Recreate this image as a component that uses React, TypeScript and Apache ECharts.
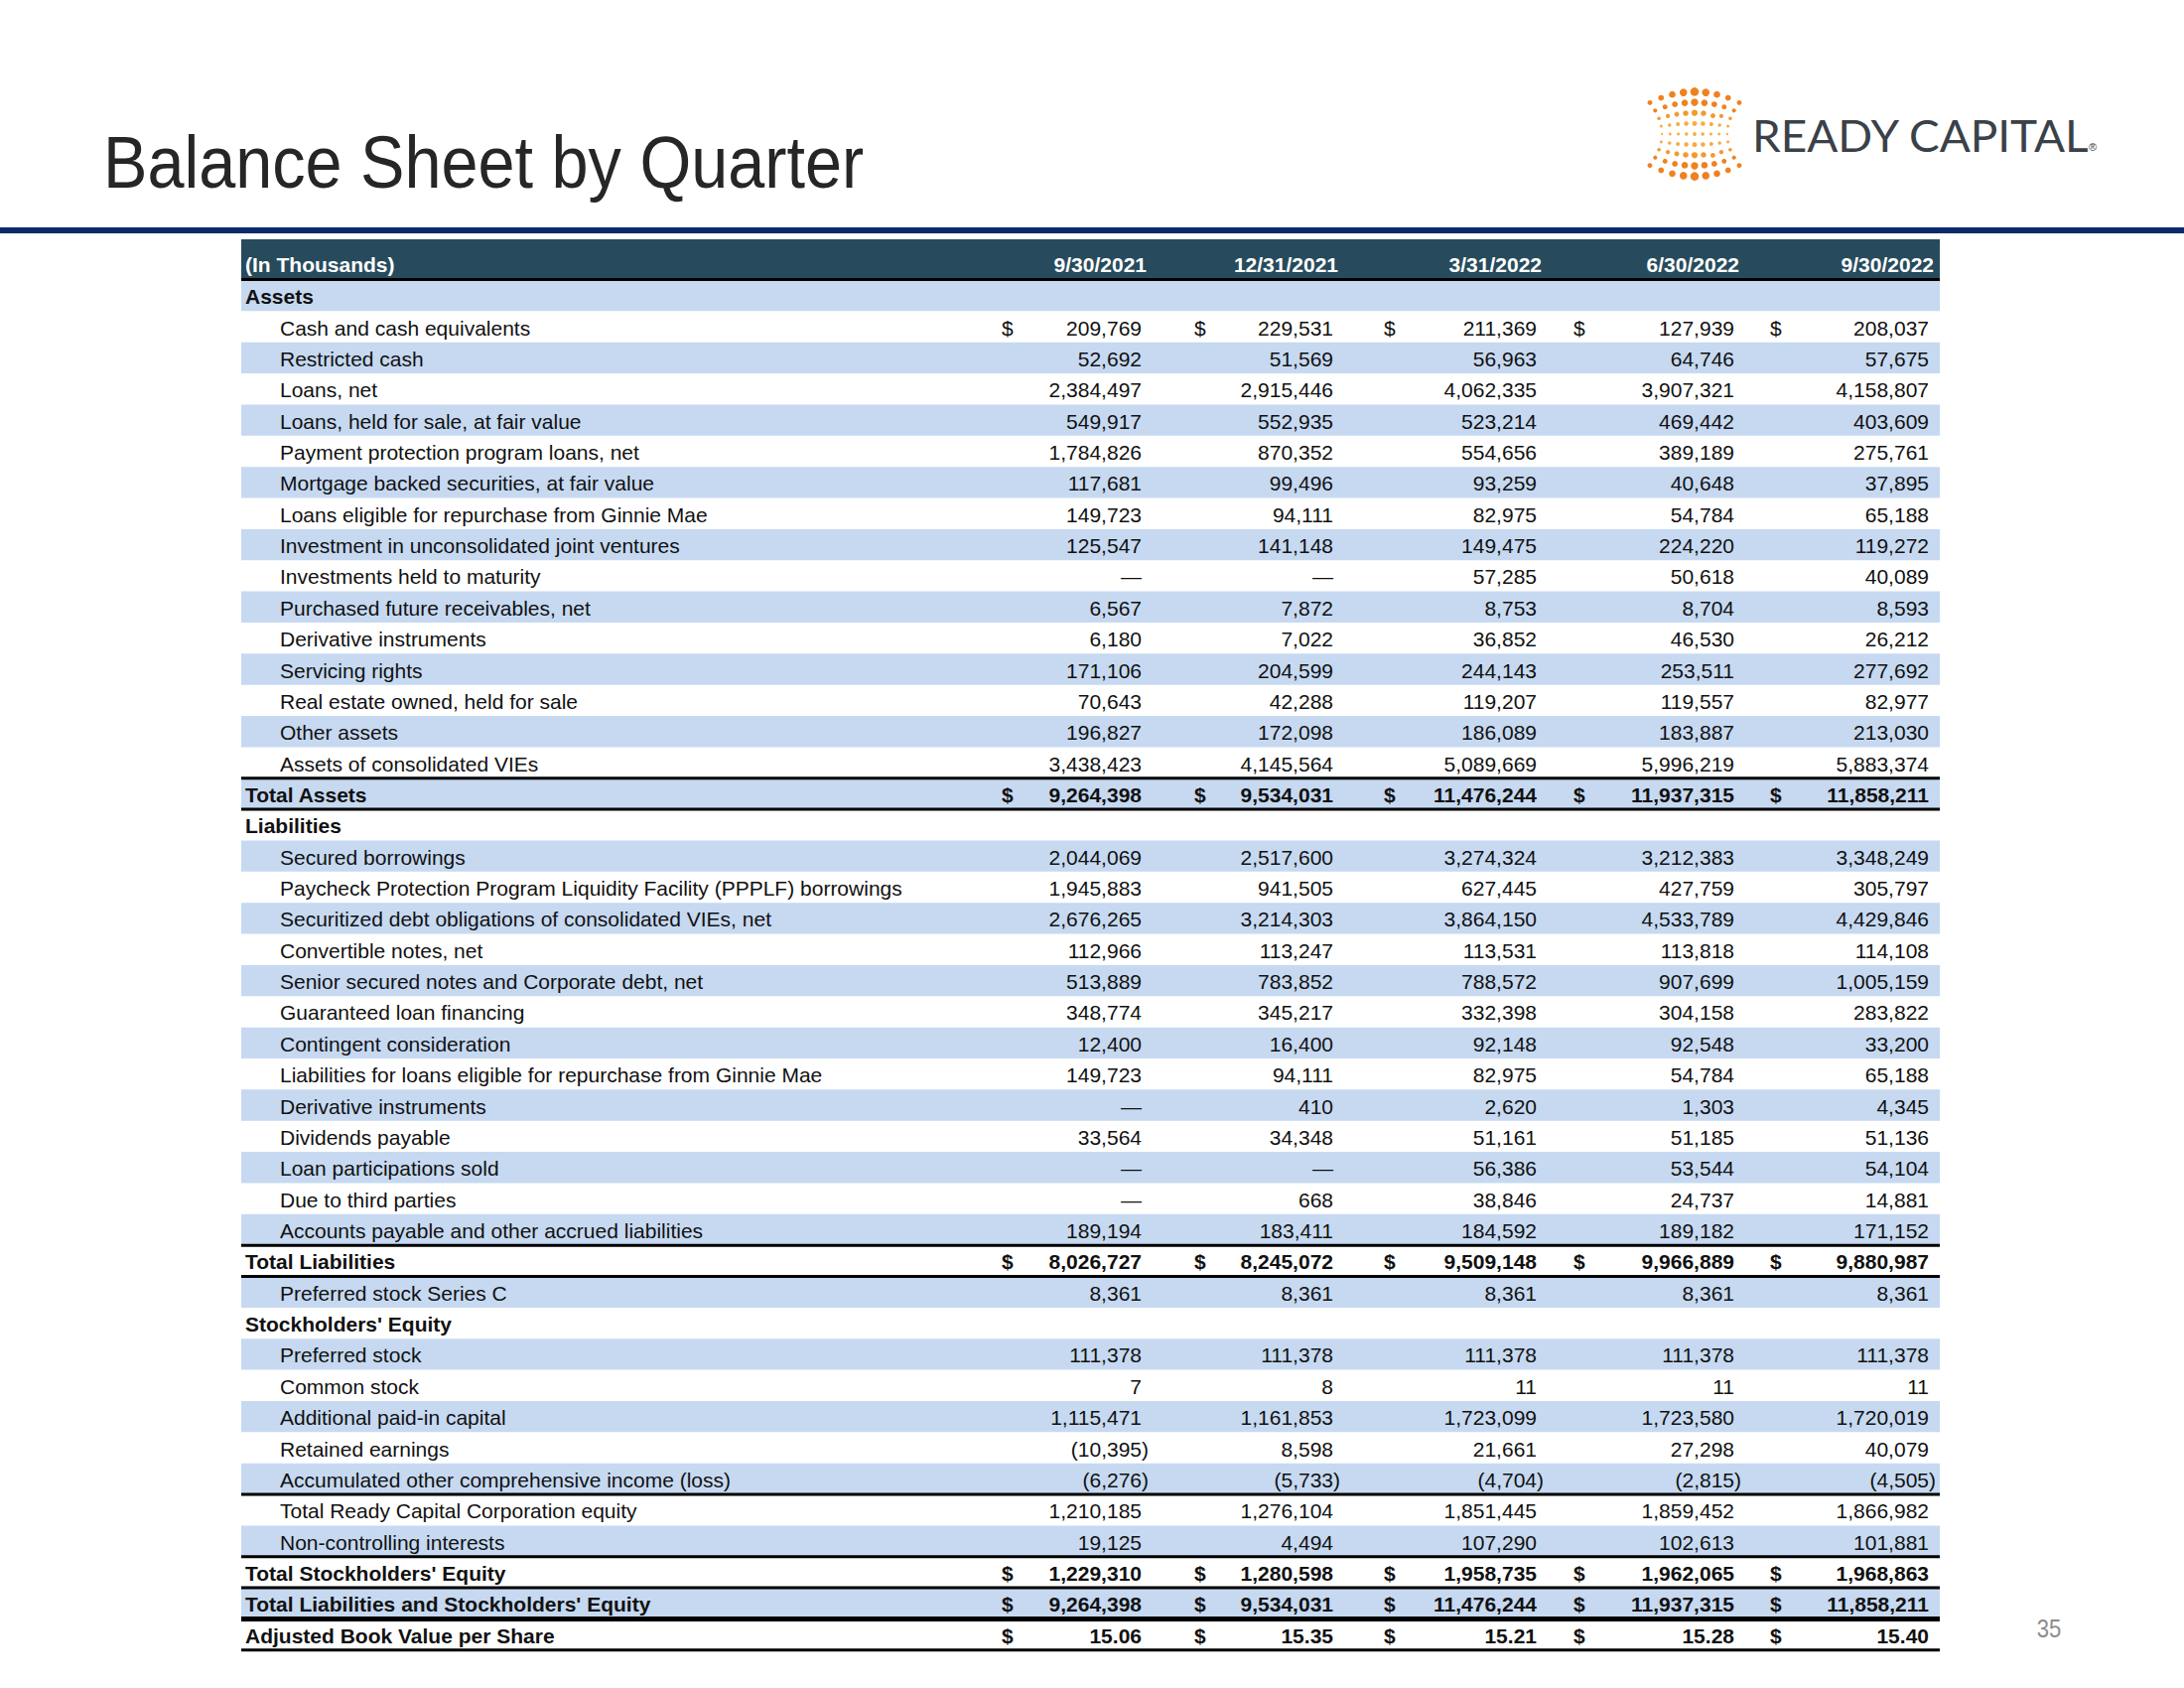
import React, { useEffect, useRef } from 'react';
import * as echarts from 'echarts';

// ---------- DATA ----------
const quarterLabels = ['9/30/2021', '12/31/2021', '3/31/2022', '6/30/2022', '9/30/2022'];

const rowLabels = [
  'Assets',
  'Cash and cash equivalents',
  'Restricted cash',
  'Loans, net',
  'Loans, held for sale, at fair value',
  'Payment protection program loans, net',
  'Mortgage backed securities, at fair value',
  'Loans eligible for repurchase from Ginnie Mae',
  'Investment in unconsolidated joint ventures',
  'Investments held to maturity',
  'Purchased future receivables, net',
  'Derivative instruments',
  'Servicing rights',
  'Real estate owned, held for sale',
  'Other assets',
  'Assets of consolidated VIEs',
  'Total Assets',
  'Liabilities',
  'Secured borrowings',
  'Paycheck Protection Program Liquidity Facility (PPPLF) borrowings',
  'Securitized debt obligations of consolidated VIEs, net',
  'Convertible notes, net',
  'Senior secured notes and Corporate debt, net',
  'Guaranteed loan financing',
  'Contingent consideration',
  'Liabilities for loans eligible for repurchase from Ginnie Mae',
  'Derivative instruments',
  'Dividends payable',
  'Loan participations sold',
  'Due to third parties',
  'Accounts payable and other accrued liabilities',
  'Total Liabilities',
  'Preferred stock Series C',
  "Stockholders' Equity",
  'Preferred stock',
  'Common stock',
  'Additional paid-in capital',
  'Retained earnings',
  'Accumulated other comprehensive income (loss)',
  'Total Ready Capital Corporation equity',
  'Non-controlling interests',
  "Total Stockholders' Equity",
  "Total Liabilities and Stockholders' Equity",
  'Adjusted Book Value per Share',
];

// 's' = section header, 'i' = line item, 't' = total
const rowKinds = [
  's', 'i', 'i', 'i', 'i', 'i', 'i', 'i', 'i', 'i', 'i', 'i', 'i', 'i', 'i', 'i', 't',
  's', 'i', 'i', 'i', 'i', 'i', 'i', 'i', 'i', 'i', 'i', 'i', 'i', 'i', 't', 'i',
  's', 'i', 'i', 'i', 'i', 'i', 'i', 'i', 't', 't', 't',
];

// null = blank, 0 = dash
const q3_2021 = [null, 209769, 52692, 2384497, 549917, 1784826, 117681, 149723, 125547, 0, 6567, 6180, 171106, 70643, 196827, 3438423, 9264398,
  null, 2044069, 1945883, 2676265, 112966, 513889, 348774, 12400, 149723, 0, 33564, 0, 0, 189194, 8026727, 8361,
  null, 111378, 7, 1115471, -10395, -6276, 1210185, 19125, 1229310, 9264398, 15.06];
const q4_2021 = [null, 229531, 51569, 2915446, 552935, 870352, 99496, 94111, 141148, 0, 7872, 7022, 204599, 42288, 172098, 4145564, 9534031,
  null, 2517600, 941505, 3214303, 113247, 783852, 345217, 16400, 94111, 410, 34348, 0, 668, 183411, 8245072, 8361,
  null, 111378, 8, 1161853, 8598, -5733, 1276104, 4494, 1280598, 9534031, 15.35];
const q1_2022 = [null, 211369, 56963, 4062335, 523214, 554656, 93259, 82975, 149475, 57285, 8753, 36852, 244143, 119207, 186089, 5089669, 11476244,
  null, 3274324, 627445, 3864150, 113531, 788572, 332398, 92148, 82975, 2620, 51161, 56386, 38846, 184592, 9509148, 8361,
  null, 111378, 11, 1723099, 21661, -4704, 1851445, 107290, 1958735, 11476244, 15.21];
const q2_2022 = [null, 127939, 64746, 3907321, 469442, 389189, 40648, 54784, 224220, 50618, 8704, 46530, 253511, 119557, 183887, 5996219, 11937315,
  null, 3212383, 427759, 4533789, 113818, 907699, 304158, 92548, 54784, 1303, 51185, 53544, 24737, 189182, 9966889, 8361,
  null, 111378, 11, 1723580, 27298, -2815, 1859452, 102613, 1962065, 11937315, 15.28];
const q3_2022 = [null, 208037, 57675, 4158807, 403609, 275761, 37895, 65188, 119272, 40089, 8593, 26212, 277692, 82977, 213030, 5883374, 11858211,
  null, 3348249, 305797, 4429846, 114108, 1005159, 283822, 33200, 65188, 4345, 51136, 54104, 14881, 171152, 9880987, 8361,
  null, 111378, 11, 1720019, 40079, -4505, 1866982, 101881, 1968863, 11858211, 15.40];

const columns = [q3_2021, q4_2021, q1_2022, q2_2022, q3_2022];

const dollarRows = [1, 16, 31, 41, 42, 43];
const lineAboveRows = [16, 17, 31, 32, 39, 41, 42];
const thickLineAboveRows = [43];
const lineBelowRows = [43];

// ---------- LAYOUT / STYLE ----------
const FONT = '"Liberation Sans", Arial, sans-serif';
const TABLE_LEFT = 243;
const TABLE_TOP = 282;
const TABLE_W = 1711;
const ROW_H = 31.36;
const valueRightOffsets = [907, 1100, 1305, 1504, 1700];
const dollarLeftOffsets = [766, 960, 1151, 1342, 1540];
const STRIPE = '#c6d9f1';
const HEADER_BG = '#274b5c';
const TEXT = '#111111';
const FS = 21;

function fmt(v: number): string {
  if (v === 0) return '\u2014';
  const a = Math.abs(v);
  const s = Number.isInteger(a) ? a.toLocaleString('en-US') : a.toFixed(2);
  return v < 0 ? '(' + s + ')' : s;
}

function logoDots(): any[] {
  const out: any[] = [];
  const cx = 1707, cy = 135, sx = 11.25, sy = 7.9, arc = 11;
  for (let j = -4; j <= 4; j++) {
    for (let i = -4; i <= 4; i++) {
      const u = i / 4, v = j / 4;
      const x = cx + i * sx * (1 - 0.27 * (1 - v * v));
      const y = cy + j * sy + Math.sign(j) * arc * (1 - u * u) * Math.abs(v);
      const r = 1.2 + 2.4 * Math.abs(v) * (1 - 0.5 * Math.abs(u)) + 0.7 * (1 - Math.abs(u));
      const t = Math.abs(v);
      const col = t > 0.6 ? '#ee8220' : t > 0.3 ? '#f29a2e' : '#f5ad45';
      out.push({ type: 'circle', shape: { cx: x, cy: y, r }, style: { fill: col }, silent: true });
    }
  }
  return out;
}

export default function App() {
  const ref = useRef<HTMLDivElement>(null);
  useEffect(() => {
    if (!ref.current) return;
    const chart = echarts.init(ref.current, null, { renderer: 'svg' });

    const renderItem = (params: any, api: any) => {
      const i = api.value(1);
      const c = api.coord([0, i]);
      const h = api.size([0, 1])[1];
      const x0 = c[0];
      const cy = c[1];
      const top = cy - h / 2;
      const w = api.coord([TABLE_W, i])[0] - x0;
      const kind = rowKinds[i];
      const children: any[] = [];
      if (i % 2 === 0) {
        children.push({ type: 'rect', shape: { x: x0, y: top, width: w, height: h }, style: { fill: STRIPE } });
      }
      children.push({
        type: 'text',
        style: {
          text: rowLabels[i], x: x0 + (kind === 'i' ? 39 : 4), y: cy + 1,
          fill: TEXT, fontSize: FS, fontFamily: FONT, fontWeight: kind === 'i' ? 'normal' : 'bold',
          align: 'left', verticalAlign: 'middle',
        },
      });
      const valBold = kind === 't' ? 'bold' : 'normal';
      columns.forEach((col, k) => {
        const v = col[i];
        if (v === null || v === undefined) return;
        const xr = api.coord([valueRightOffsets[k] + (v < 0 ? 7 : 0), i])[0];
        children.push({
          type: 'text',
          style: {
            text: fmt(v), x: xr, y: cy + 1, fill: TEXT, fontSize: FS, fontFamily: FONT, fontWeight: valBold,
            align: 'right', verticalAlign: 'middle',
          },
        });
        if (dollarRows.includes(i)) {
          const xd = api.coord([dollarLeftOffsets[k], i])[0];
          children.push({
            type: 'text',
            style: {
              text: '$', x: xd, y: cy + 1, fill: TEXT, fontSize: FS, fontFamily: FONT, fontWeight: valBold,
              align: 'left', verticalAlign: 'middle',
            },
          });
        }
      });
      if (lineAboveRows.includes(i)) {
        children.push({ type: 'rect', shape: { x: x0, y: top - 1.5, width: w, height: 3 }, style: { fill: '#000' } });
      }
      if (thickLineAboveRows.includes(i)) {
        children.push({ type: 'rect', shape: { x: x0, y: top - 2.5, width: w, height: 5 }, style: { fill: '#000' } });
      }
      if (lineBelowRows.includes(i)) {
        children.push({ type: 'rect', shape: { x: x0, y: top + h - 1.5, width: w, height: 3 }, style: { fill: '#000' } });
      }
      return { type: 'group', children };
    };

    const headerTexts: any[] = quarterLabels.map((q, k) => ({
      type: 'text',
      x: TABLE_LEFT + valueRightOffsets[k] + 5,
      y: 266,
      style: { text: q, fill: '#ffffff', fontSize: FS, fontFamily: FONT, fontWeight: 'bold', align: 'right', verticalAlign: 'middle' },
    }));

    const option: any = {
      animation: false,
      backgroundColor: '#ffffff',
      grid: { left: TABLE_LEFT, top: TABLE_TOP, width: TABLE_W, height: ROW_H * rowLabels.length, show: false },
      xAxis: { type: 'value', min: 0, max: TABLE_W, show: false },
      yAxis: { type: 'category', data: rowLabels, inverse: true, show: false },
      series: [
        {
          type: 'custom',
          data: rowLabels.map((_, i) => [0, i]),
          encode: { x: 0, y: 1 },
          renderItem,
          clip: false,
          silent: true,
        },
      ],
      graphic: [
        {
          type: 'text', x: 104, y: 163, scaleX: 0.9,
          style: { text: 'Balance Sheet by Quarter', fill: '#262626', fontSize: 74, fontFamily: FONT, align: 'left', verticalAlign: 'middle' },
        },
        { type: 'rect', shape: { x: 0, y: 229, width: 2200, height: 6 }, style: { fill: '#0b2a6b' } },
        { type: 'rect', shape: { x: TABLE_LEFT, y: 241, width: TABLE_W, height: 40 }, style: { fill: HEADER_BG } },
        { type: 'rect', z: 100, shape: { x: TABLE_LEFT, y: 280, width: TABLE_W, height: 3 }, style: { fill: '#000' } },
        {
          type: 'text', x: TABLE_LEFT + 4, y: 266,
          style: { text: '(In Thousands)', fill: '#ffffff', fontSize: FS, fontFamily: FONT, fontWeight: 'bold', align: 'left', verticalAlign: 'middle' },
        },
        ...headerTexts,
        ...logoDots(),
        {
          type: 'text', x: 1765, y: 136, scaleX: 1.02,
          style: { text: 'READY CAPITAL', fill: '#3a4148', fontSize: 45, fontFamily: 'Lato, "Liberation Sans", sans-serif', align: 'left', verticalAlign: 'middle' },
        },
        {
          type: 'text', x: 2104, y: 148,
          style: { text: '\u00ae', fill: '#3a4148', fontSize: 11, fontFamily: FONT, align: 'left', verticalAlign: 'middle' },
        },
        {
          type: 'text', x: 2064, y: 1640, scaleX: 0.85,
          style: { text: '35', fill: '#8c8c8c', fontSize: 26, fontFamily: FONT, align: 'center', verticalAlign: 'middle' },
        },
      ],
    };
    chart.setOption(option);
    return () => chart.dispose();
  }, []);
  return <div ref={ref} style={{ position: 'absolute', left: 0, top: 0, width: 2200, height: 1700, background: '#fff' }} />;
}
